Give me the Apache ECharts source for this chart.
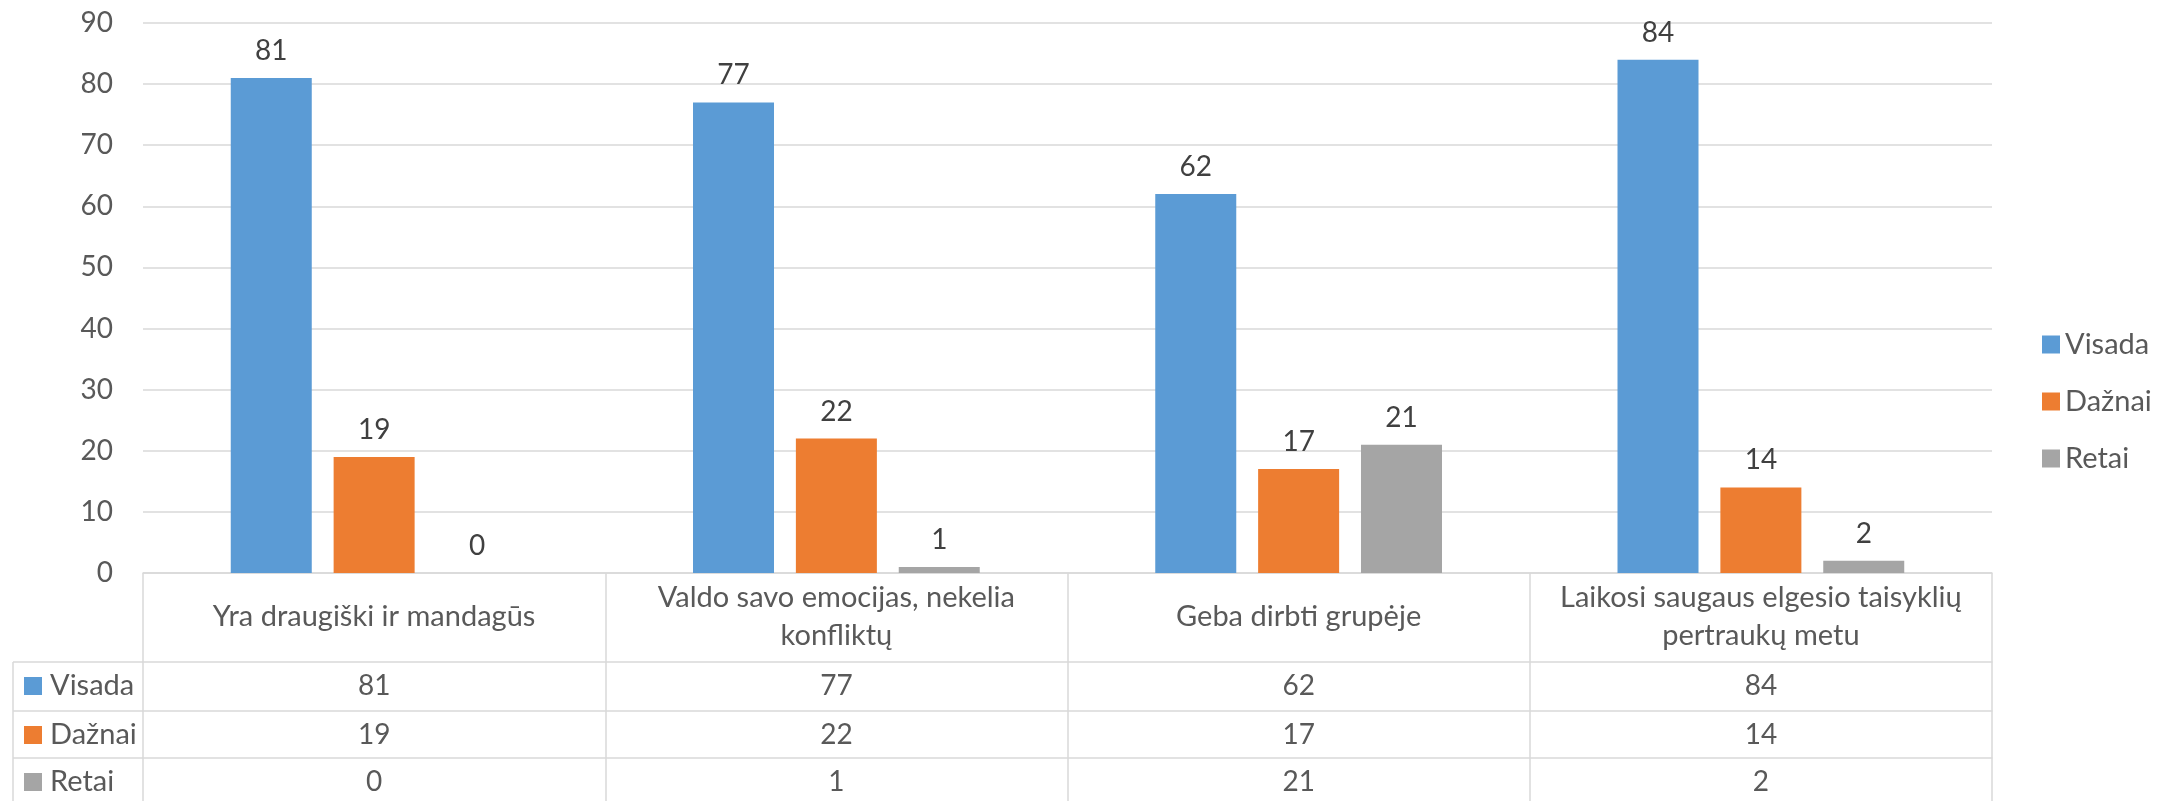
<!DOCTYPE html>
<html>
<head>
<meta charset="utf-8">
<script src="https://cdn.jsdelivr.net/npm/echarts@6/dist/echarts.min.js"></script>
<style>
  html, body { margin: 0; padding: 0; background: #fff; }
  #chart { width: 2173px; height: 801px; }
</style>
</head>
<body>
<div id="chart"></div>
<script>
const categories = [
  'Yra draugiški ir mandagūs',
  'Valdo savo emocijas, nekelia\nkonfliktų',
  'Geba dirbti grupėje',
  'Laikosi saugaus elgesio taisyklių\npertraukų metu'
];
const seriesNames = ['Visada', 'Dažnai', 'Retai'];
const visada = [81, 77, 62, 84];
const daznai = [19, 22, 17, 14];
const retai = [0, 1, 21, 2];
const yTicks = { min: 0, max: 90, interval: 10 };

const seriesValues = [visada, daznai, retai];
const colors = ['#5B9BD5', '#ED7D31', '#A5A5A5'];
const font = 'Lato, "Open Sans", sans-serif';
const lineColor = '#d9d9d9';
const textColor = '#595959';
const numSize = 28;
const textSize = 29;

// layout of the plot and the data table under it
const gridLeft = 143;
const gridRight = 181;
const gridTop = 23;
const axisY = 573;
const tableLeft = 13;
const rowOffsets = [89, 138, 185]; // row top lines, measured from the axis
const rowLabelMargin = 24;

const chart = echarts.init(document.getElementById('chart'), null, { renderer: 'canvas' });

const rowAxes = seriesValues.map((vals, i) => ({
  type: 'category',
  data: categories,
  position: 'bottom',
  offset: rowOffsets[i],
  axisLine: { show: true, lineStyle: { color: lineColor, width: 1.5 } },
  axisTick: { show: false },
  axisLabel: {
    interval: 0,
    margin: rowLabelMargin,
    verticalAlign: 'middle',
    fontFamily: font,
    fontSize: numSize,
    color: textColor,
    formatter: (v, idx) => String(vals[idx])
  }
}));

// left column of the table: series keys
const keyGraphics = [];
seriesNames.forEach((name, i) => {
  const top = axisY + rowOffsets[i];
  const cy = top + rowLabelMargin;
  keyGraphics.push({
    type: 'line', silent: true,
    shape: { x1: tableLeft, y1: top, x2: gridLeft, y2: top },
    style: { stroke: lineColor, lineWidth: 1.5 }
  });
  keyGraphics.push({
    type: 'rect', silent: true,
    shape: { x: 24, y: cy - 9, width: 18, height: 18 },
    style: { fill: colors[i] }
  });
  keyGraphics.push({
    type: 'text', silent: true,
    x: 50, y: cy,
    style: { text: name, font: textSize + 'px ' + font, fill: textColor, verticalAlign: 'middle' }
  });
});
keyGraphics.push({
  type: 'line', silent: true,
  shape: { x1: tableLeft, y1: axisY + rowOffsets[0], x2: tableLeft, y2: 801 },
  style: { stroke: lineColor, lineWidth: 1.5 }
});

const option = {
  backgroundColor: '#fff',
  animation: false,
  textStyle: { fontFamily: font },
  grid: { left: gridLeft, right: gridRight, top: gridTop, bottom: 801 - axisY, containLabel: false },
  legend: {
    data: seriesNames,
    orient: 'vertical',
    left: 2037,
    top: 325,
    itemWidth: 18,
    itemHeight: 18,
    itemGap: 28,
    icon: 'rect',
    textStyle: { fontFamily: font, fontSize: textSize, color: textColor }
  },
  xAxis: [
    {
      type: 'category',
      data: categories,
      position: 'bottom',
      axisLine: { show: true, lineStyle: { color: lineColor, width: 1.5 } },
      axisTick: { show: true, length: 240, interval: 0, lineStyle: { color: lineColor, width: 1.5 } },
      axisLabel: {
        interval: 0,
        margin: 44,
        verticalAlign: 'middle',
        fontFamily: font,
        fontSize: textSize,
        lineHeight: 38,
        color: textColor,
        align: 'center'
      }
    },
    ...rowAxes
  ],
  yAxis: {
    type: 'value',
    min: yTicks.min,
    max: yTicks.max,
    interval: yTicks.interval,
    axisLine: { show: false },
    axisTick: { show: false },
    axisLabel: { fontFamily: font, fontSize: numSize, color: textColor, margin: 30 },
    splitLine: { lineStyle: { color: lineColor, width: 1.5 } }
  },
  series: seriesNames.map((name, i) => ({
    name: name,
    type: 'bar',
    xAxisIndex: 0,
    data: seriesValues[i],
    barWidth: 81,
    barGap: '27%',
    itemStyle: { color: colors[i] },
    label: {
      show: true,
      position: 'top',
      distance: 13,
      fontFamily: font,
      fontSize: numSize,
      color: '#404040'
    }
  })),
  graphic: keyGraphics
};

chart.setOption(option);
</script>
</body>
</html>
